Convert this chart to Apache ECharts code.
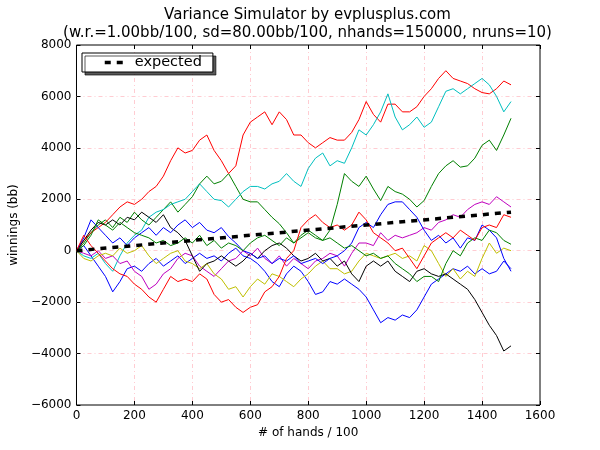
<!DOCTYPE html>
<html>
<head>
<meta charset="utf-8">
<script src="https://cdn.jsdelivr.net/npm/echarts@6/dist/echarts.min.js"></script>
<style>
html,body{margin:0;padding:0;background:#ffffff;}
#chart{width:600px;height:450px;}
</style>
</head>
<body>
<div id="chart"></div>
<script>
// x values: hands / 100
const HANDS = [0,25,50,75,100,125,150,175,200,225,250,275,300,325,350,375,400,425,450,475,500,525,550,575,600,625,650,675,700,725,750,775,800,825,850,875,900,925,950,975,1000,1025,1050,1075,1100,1125,1150,1175,1200,1225,1250,1275,1300,1325,1350,1375,1400,1425,1450,1475,1500];

// winnings (bb) for each of the 10 runs
const RUN1_BLUE = [0,200,-200,-600,-1000,-1600,-1200,-700,-600,-800,-500,-300,-600,-400,-200,-500,-300,-100,-300,-200,-400,-100,100,-200,-300,-500,-800,-1200,-1400,-900,-600,-800,-1200,-1700,-1600,-1200,-1300,-1100,-1300,-1500,-1800,-2300,-2800,-2600,-2700,-2500,-2600,-2300,-1800,-1300,-1100,-900,-700,-800,-600,-900,-700,-900,-800,-400,-700];
const RUN2_GREEN = [0,300,700,1000,1200,900,1300,1100,1500,1200,1000,1300,1600,1900,1500,1800,2100,2600,2900,2600,2700,3000,2500,2000,1900,1900,1600,1300,1050,700,300,500,700,500,400,800,1800,3000,2700,2500,2900,2400,1950,2500,2300,2200,2000,1700,1950,2500,3000,3300,3500,3250,3300,3600,4100,4300,3900,4500,5150];
const RUN3_RED = [0,400,700,900,1100,1400,1700,1900,1800,2000,2300,2500,2900,3500,4000,3800,3900,4300,4500,3900,3500,3000,3300,4500,5000,5200,5400,4900,5400,5100,4500,4500,4200,4000,4200,4400,4300,4300,4600,5100,5800,5300,5000,5700,5700,5400,5400,5600,6000,6300,6700,7000,6700,6600,6500,6300,6150,6100,6300,6600,6450];
const RUN4_CYAN = [0,-200,-300,-100,-500,-800,-200,300,600,800,1300,1500,1600,1800,1900,2000,2300,2600,2300,2000,1950,1700,2000,2300,2500,2500,2400,2600,2700,3000,2700,2500,3200,3600,3800,3300,3500,3400,4000,4700,4500,4900,5400,6100,5200,4700,4900,5200,4800,5000,5600,6200,6300,6100,6300,6500,6700,6450,6000,5400,5800];
const RUN5_MAGENTA = [0,-100,-200,0,-300,-200,-500,-400,-800,-1000,-1500,-1300,-900,-700,-300,-100,-200,-600,-800,-1000,-700,-400,-300,0,-200,100,-300,-500,-200,-600,-300,-500,-700,-400,-300,-100,-200,-600,-100,300,300,200,700,400,600,500,600,700,900,800,1100,1200,1400,1300,1600,1800,1900,1800,2100,1900,1700];
const RUN6_YELLOW = [0,-300,-400,-200,-100,-200,100,-100,0,200,-200,-500,-300,-100,0,-400,-500,-700,-500,-900,-1100,-1500,-1400,-1800,-1400,-1100,-1300,-900,-1000,-1200,-1400,-1100,-900,-600,-400,-700,-700,-900,-800,-400,-100,-200,-300,-200,-100,-300,-200,-400,200,0,-500,-1000,-700,-1100,-800,-1000,-300,300,-100,100,0];
const RUN7_BLACK = [0,400,800,1100,1000,1200,1000,1300,1200,1500,1300,1100,1400,900,700,400,-200,-800,-500,-400,-200,-400,-600,-400,-100,-300,0,200,300,100,-200,-400,-300,-100,-400,-300,-600,-400,-900,-1200,-600,-400,-600,-400,-800,-1000,-1200,-800,-700,-900,-1000,-900,-1100,-1300,-1500,-1900,-2400,-2900,-3300,-3900,-3700];
const RUN8_BLUE = [0,500,1200,900,600,300,500,200,500,700,900,600,900,700,1000,1200,900,1100,800,700,900,550,300,0,-100,-300,-200,-500,-300,-400,-200,-500,-400,-300,-500,-300,-200,0,300,900,1100,900,1400,1800,1900,1900,1600,1300,800,400,600,300,500,100,500,400,1000,800,500,-300,-800];
const RUN9_GREEN = [0,200,600,1200,1000,800,1100,900,700,600,500,300,400,200,300,500,300,600,200,400,100,300,200,0,300,500,600,400,200,500,300,600,800,600,400,500,300,100,200,0,-200,-100,-300,-200,-500,-700,-900,-1200,-1000,-1000,-1200,-500,0,-200,300,500,400,800,700,400,250];
const RUN10_RED = [0,600,200,-100,-400,-700,-900,-1000,-1300,-1500,-1800,-2000,-1500,-1000,-1200,-1100,-1200,-900,-1100,-1700,-2000,-1900,-2200,-2400,-2200,-2100,-1600,-1400,-1000,-300,0,900,1200,1400,1100,900,1000,800,1000,1500,1200,700,500,300,0,100,-300,-700,-200,300,500,700,500,800,600,400,900,1000,900,1400,1300];

// expected winnings line (1 bb per 100 hands)
const EXPECTED_X = [0, 1500];
const EXPECTED_Y = [0, 1500];

const X_TICKS = [0,200,400,600,800,1000,1200,1400,1600];
const Y_TICKS = [-6000,-4000,-2000,0,2000,4000,6000,8000];

const RUNS = [
  {vals: RUN1_BLUE, color: '#0000ff'},
  {vals: RUN2_GREEN, color: '#008000'},
  {vals: RUN3_RED, color: '#ff0000'},
  {vals: RUN4_CYAN, color: '#00bfbf'},
  {vals: RUN5_MAGENTA, color: '#bf00bf'},
  {vals: RUN6_YELLOW, color: '#bfbf00'},
  {vals: RUN7_BLACK, color: '#000000'},
  {vals: RUN8_BLUE, color: '#0000ff'},
  {vals: RUN9_GREEN, color: '#008000'},
  {vals: RUN10_RED, color: '#ff0000'}
];

const FONT = 'DejaVu Sans';
const minusFmt = v => String(v).replace('-', '\u2212');

const series = RUNS.map((r, k) => ({
  name: 'run' + (k + 1),
  type: 'line',
  data: HANDS.map((h, i) => [h, r.vals[i]]),
  symbol: 'none',
  showSymbol: false,
  lineStyle: {color: r.color, width: 1},
  itemStyle: {color: r.color},
  z: 2 + k * 0.01,
  silent: true,
  animation: false
}));

series.push({
  name: 'expected',
  type: 'line',
  data: EXPECTED_X.map((x, i) => [x, EXPECTED_Y[i]]),
  symbol: 'none',
  showSymbol: false,
  lineStyle: {color: '#000000', width: 3.5, type: [6, 6], cap: 'butt'},
  itemStyle: {color: '#000000'},
  z: 5,
  silent: true,
  animation: false
});

const splitStyle = {color: '#ffccd2', width: 1, type: [4, 3, 1, 3]};

const option = {
  animation: false,
  backgroundColor: '#ffffff',
  title: {
    text: 'Variance Simulator by evplusplus.com\n(w.r.=1.00bb/100, sd=80.00bb/100, nhands=150000, nruns=10)',
    left: 307.5,
    textAlign: 'center',
    top: 6,
    padding: 0,
    textStyle: {fontFamily: FONT, fontSize: 15, fontWeight: 'normal', color: '#000', lineHeight: 18}
  },
  legend: {
    data: [{name: 'expected'}],
    left: 82,
    top: 53,
    padding: [2, 11, 2, 21],
    itemWidth: 19,
    itemHeight: 14,
    itemStyle: {opacity: 0, borderWidth: 0},
    lineStyle: {color: '#000000', width: 3.5, type: [6, 6], cap: 'butt'},
    backgroundColor: '#ffffff',
    borderColor: '#000000',
    borderWidth: 1,
    borderRadius: 0,
    shadowColor: 'rgba(0,0,0,0.65)',
    shadowBlur: 0,
    shadowOffsetX: 3,
    shadowOffsetY: 3,
    selectedMode: false,
    textStyle: {fontFamily: FONT, fontSize: 14.5, color: '#000', padding: [0, 2, 0, 6]}
  },
  grid: {
    left: 75, right: 60, top: 45, bottom: 45,
    show: true, borderColor: '#000', borderWidth: 1, backgroundColor: 'transparent',
    containLabel: false
  },
  xAxis: [
    {
      type: 'value', min: 0, max: 1600, interval: 200, position: 'bottom',
      axisLine: {show: false, onZero: false},
      axisTick: {show: true, inside: true, length: 4, lineStyle: {color: '#000'}},
      axisLabel: {color: '#000', fontFamily: FONT, fontSize: 12, margin: 5,
        formatter: v => X_TICKS.includes(v) ? minusFmt(v) : ''},
      splitLine: {show: true, showMinLine: false, showMaxLine: false, lineStyle: splitStyle},
      name: '# of hands / 100', nameLocation: 'middle', nameGap: 15,
      nameTextStyle: {fontFamily: FONT, fontSize: 12, color: '#000'}
    },
    {
      type: 'value', min: 0, max: 1600, interval: 200, position: 'top',
      axisLine: {show: false, onZero: false},
      axisTick: {show: true, inside: true, length: 4, lineStyle: {color: '#000'}},
      axisLabel: {show: false},
      splitLine: {show: false}
    }
  ],
  yAxis: [
    {
      type: 'value', min: -6000, max: 8000, interval: 2000, position: 'left',
      axisLine: {show: false, onZero: false},
      axisTick: {show: true, inside: true, length: 4, lineStyle: {color: '#000'}},
      axisLabel: {color: '#000', fontFamily: FONT, fontSize: 12, margin: 5,
        formatter: v => Y_TICKS.includes(v) ? minusFmt(v) : ''},
      splitLine: {show: true, showMinLine: false, showMaxLine: false, lineStyle: splitStyle},
      name: 'winnings (bb)', nameLocation: 'middle', nameGap: 46,
      nameTextStyle: {fontFamily: FONT, fontSize: 12, color: '#000'}
    },
    {
      type: 'value', min: -6000, max: 8000, interval: 2000, position: 'right',
      axisLine: {show: false, onZero: false},
      axisTick: {show: true, inside: true, length: 4, lineStyle: {color: '#000'}},
      axisLabel: {show: false},
      splitLine: {show: false}
    }
  ],
  series: series
};

const chart = echarts.init(document.getElementById('chart'), null, {renderer: 'canvas', width: 600, height: 450});
chart.setOption(option);
</script>
</body>
</html>
